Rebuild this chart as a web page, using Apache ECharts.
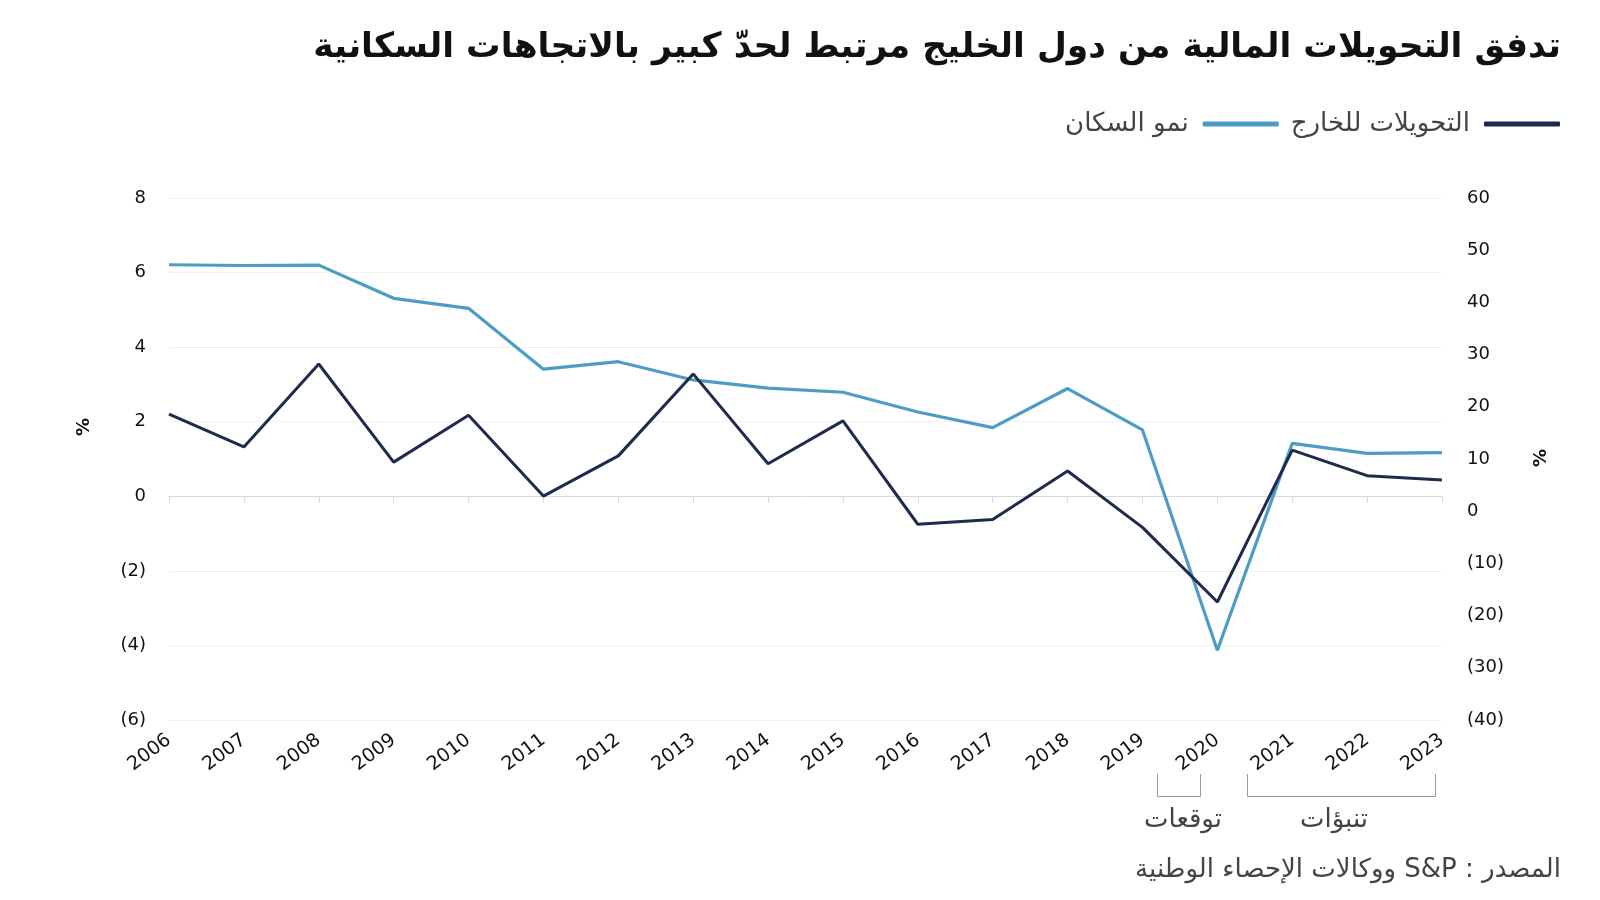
<!DOCTYPE html>
<html>
<head>
<meta charset="utf-8">
<script src="https://cdn.jsdelivr.net/npm/echarts@6/dist/echarts.min.js"></script>
<style>
html,body{margin:0;padding:0;background:#fff;}
#chart{width:1600px;height:900px;}
</style>
</head>
<body>
<div id="chart"></div>
<script>
// ---- data ----
const years = ['2006','2007','2008','2009','2010','2011','2012','2013','2014','2015','2016','2017','2018','2019','2020','2021','2022','2023'];
const remittances = [18.6, 12.3, 28.2, 9.4, 18.4, 2.9, 10.6, 26.3, 9.1, 17.3, -2.5, -1.6, 7.7, -3.1, -17.4, 11.7, 6.8, 6.0];
const populationGrowth = [6.21, 6.19, 6.2, 5.31, 5.04, 3.41, 3.61, 3.12, 2.9, 2.79, 2.26, 1.84, 2.89, 1.78, -4.13, 1.42, 1.15, 1.17];
const seriesNames = ['التحويلات للخارج', 'نمو السكان'];
const titleText = 'تدفق التحويلات المالية من دول الخليج مرتبط لحدّ كبير بالاتجاهات السكانية';
const sourceText = 'المصدر : S&P ووكالات الإحصاء الوطنية';
const estimateLabel = 'توقعات';
const forecastLabel = 'تنبؤات';

const FONT = '"DejaVu Sans", "Noto Sans", sans-serif';
const DARK = '#1f2b4d';
const LIGHT = '#4d9cc6';
const negFmt = v => v < 0 ? '(' + Math.abs(v) + ')' : String(v);

const chart = echarts.init(document.getElementById('chart'), null, {renderer: 'canvas'});
chart.setOption({
  backgroundColor: '#ffffff',
  animation: false,
  textStyle: {fontFamily: FONT},
  grid: {left: 169, right: 158, top: 198, bottom: 180, containLabel: false},
  legend: {
    data: [seriesNames[1], seriesNames[0]],
    right: 35, top: 106,
    align: 'right',
    icon: 'roundRect',
    itemWidth: 76, itemHeight: 5,
    itemGap: 12,
    textStyle: {fontSize: 26, color: '#444', fontFamily: FONT, padding: [0, 9, 0, 0]}
  },
  xAxis: [
    {
      type: 'category', data: years, boundaryGap: false, position: 'bottom',
      axisLine: {show: false, onZero: false}, axisTick: {show: false},
      axisLabel: {rotate: 37, fontSize: 19, color: '#111', margin: 18, interval: 0, fontFamily: FONT}
    },
    {
      type: 'category', data: years, boundaryGap: false, position: 'bottom',
      axisLine: {show: true, onZero: true, onZeroAxisIndex: 0, lineStyle: {color: '#d9d9d9', width: 1}},
      axisTick: {show: true, length: 6, lineStyle: {color: '#d9d9d9'}},
      axisLabel: {show: false}
    }
  ],
  yAxis: [
    {
      type: 'value', min: -6, max: 8, interval: 2, position: 'left',
      axisLine: {show: false}, axisTick: {show: false},
      axisLabel: {formatter: negFmt, fontSize: 18, color: '#111', margin: 23, fontFamily: FONT},
      splitLine: {show: true, lineStyle: {color: '#f1f1f1', width: 1}}
    },
    {
      type: 'value', min: -40, max: 60, interval: 10, position: 'right',
      axisLine: {show: false}, axisTick: {show: false},
      axisLabel: {formatter: negFmt, fontSize: 18, color: '#111', margin: 25, fontFamily: FONT},
      splitLine: {show: false}
    }
  ],
  series: [
    {
      name: seriesNames[1], type: 'line', xAxisIndex: 0, yAxisIndex: 0,
      data: populationGrowth, symbol: 'none',
      lineStyle: {color: LIGHT, width: 3.2}, itemStyle: {color: LIGHT}
    },
    {
      name: seriesNames[0], type: 'line', xAxisIndex: 0, yAxisIndex: 1,
      data: remittances, symbol: 'none',
      lineStyle: {color: DARK, width: 3}, itemStyle: {color: DARK}
    }
  ],
  graphic: [
    {type: 'text', x: 1561, y: 48, style: {text: titleText, fontSize: 34.5, fontWeight: 'bold', fontFamily: FONT, fill: '#111', align: 'right', verticalAlign: 'middle'}},
    {type: 'text', x: 84, y: 427, rotation: Math.PI / 2, style: {text: '%', fontSize: 18, fontWeight: 'bold', fontFamily: FONT, fill: '#111', align: 'center', verticalAlign: 'middle'}},
    {type: 'text', x: 1541, y: 458, rotation: Math.PI / 2, style: {text: '%', fontSize: 18, fontWeight: 'bold', fontFamily: FONT, fill: '#111', align: 'center', verticalAlign: 'middle'}},
    {type: 'polyline', shape: {points: [[1157.5, 774], [1157.5, 796.5], [1200.5, 796.5], [1200.5, 774]]}, style: {stroke: '#9a9a9a', lineWidth: 1, fill: null}},
    {type: 'polyline', shape: {points: [[1247.5, 774], [1247.5, 796.5], [1435.5, 796.5], [1435.5, 774]]}, style: {stroke: '#9a9a9a', lineWidth: 1, fill: null}},
    {type: 'text', x: 1183, y: 820, style: {text: estimateLabel, fontSize: 26, fontFamily: FONT, fill: '#444', align: 'center', verticalAlign: 'middle'}},
    {type: 'text', x: 1334, y: 820, style: {text: forecastLabel, fontSize: 26, fontFamily: FONT, fill: '#444', align: 'center', verticalAlign: 'middle'}},
    {type: 'text', x: 1561, y: 870, style: {text: '\u202B' + sourceText + '\u202C', fontSize: 26, fontFamily: FONT, fill: '#444', align: 'right', verticalAlign: 'middle'}}
  ]
});
</script>
</body>
</html>
